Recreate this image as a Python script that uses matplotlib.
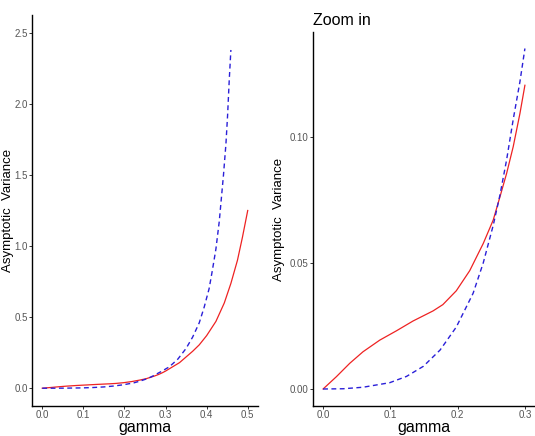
import matplotlib
matplotlib.use("Agg")
import matplotlib.pyplot as plt
import numpy as np

# values
red_gamma = [0.0, 0.0198, 0.0396, 0.0594, 0.0842, 0.109, 0.1337, 0.1634, 0.178, 0.198,
             0.218, 0.2381, 0.2529, 0.2629, 0.2728, 0.2826, 0.2926, 0.3,
             0.334, 0.366, 0.382, 0.4, 0.4226, 0.443, 0.459, 0.475, 0.487, 0.5]
red_var = [0.0, 0.0049, 0.0102, 0.0148, 0.0194, 0.0231, 0.027, 0.031, 0.0335, 0.039,
           0.047, 0.0578, 0.0671, 0.0763, 0.0856, 0.0962, 0.1094, 0.1206,
           0.18, 0.26, 0.305, 0.37, 0.47, 0.60, 0.737, 0.90, 1.06, 1.25]

blue_gamma = [0.0, 0.03, 0.0594, 0.099, 0.124, 0.149, 0.174, 0.198, 0.223, 0.238,
              0.2529, 0.2629, 0.2728, 0.2826, 0.2926, 0.3,
              0.309, 0.33, 0.35, 0.366, 0.382, 0.394, 0.406, 0.414, 0.4226, 0.4306,
              0.4347, 0.441, 0.447, 0.451, 0.455, 0.459]
blue_var = [0.0, 0.0001, 0.0007, 0.0025, 0.005, 0.009, 0.0155, 0.0246, 0.038, 0.05,
            0.065, 0.077, 0.091, 0.107, 0.122, 0.1352,
            0.15, 0.205, 0.28, 0.36, 0.46, 0.57, 0.70, 0.83, 0.98, 1.17,
            1.30, 1.50, 1.72, 1.92, 2.167, 2.379]

zoom_max = 0.3

left_xticks = [0.0, 0.1, 0.2, 0.3, 0.4, 0.5]
left_yticks = [0.0, 0.5, 1.0, 1.5, 2.0, 2.5]
right_xticks = [0.0, 0.1, 0.2, 0.3]
right_yticks = [0.00, 0.05, 0.10]

plt.rcParams['font.family'] = ['Liberation Sans', 'DejaVu Sans']

W, H = 535, 436
fig = plt.figure(figsize=(W / 100, H / 100), dpi=100)


def px_axes(x0, x1, y_top, y_bot):
    return fig.add_axes([x0 / W, 1 - y_bot / H, (x1 - x0) / W, (y_bot - y_top) / H])


def style(ax):
    for s in ['top', 'right']:
        ax.spines[s].set_visible(False)
    for s in ['left', 'bottom']:
        ax.spines[s].set_linewidth(1.0)
        ax.spines[s].set_color('black')
    ax.tick_params(length=2, width=0.7, color='#333333', labelcolor='#555555',
                   labelsize=7, pad=1)


red_color = '#ee2222'
blue_color = '#2a1fd8'

ax1 = px_axes(32, 258, 15, 406)
ax1.plot(red_gamma, red_var, color=red_color, lw=0.9)
ax1.plot(blue_gamma, blue_var, color=blue_color, lw=1.0, dashes=(3.5, 2.5))
ax1.set_xlim(-0.025, 0.525)
ax1.set_ylim(-0.125, 2.625)
ax1.set_xticks(left_xticks)
ax1.set_yticks(left_yticks)
ax1.set_xticklabels([f"{t:.1f}" for t in left_xticks])
ax1.set_yticklabels([f"{t:.1f}" for t in left_yticks])
style(ax1)
ax1.set_xlabel("gamma", fontsize=11.5, labelpad=0)
ax1.set_ylabel("Asymptotic  Variance", fontsize=9.5)
# kept just inside the left edge
ax1.yaxis.set_label_coords((8 - 32) / 226, 0.5)
ax1.yaxis.label.set_va('center')

rg = np.array(red_gamma)
rv = np.array(red_var)
bg = np.array(blue_gamma)
bv = np.array(blue_var)

ax2 = px_axes(313, 535, 32, 406)
ax2.plot(rg[rg <= zoom_max], rv[rg <= zoom_max], color=red_color, lw=0.9)
ax2.plot(bg[bg <= zoom_max], bv[bg <= zoom_max], color=blue_color, lw=1.0, dashes=(3.5, 2.5))
ax2.set_xlim(-0.015, 0.315)
ax2.set_ylim(-0.00675, 0.14175)
ax2.set_xticks(right_xticks)
ax2.set_yticks(right_yticks)
ax2.set_xticklabels([f"{t:.1f}" for t in right_xticks])
ax2.set_yticklabels([f"{t:.2f}" for t in right_yticks])
style(ax2)
ax2.set_xlabel("gamma", fontsize=11.5, labelpad=0)
ax2.set_ylabel("Asymptotic  Variance", fontsize=9.5)
ax2.yaxis.set_label_coords((279 - 313) / 222, 0.5)
ax2.yaxis.label.set_va('center')
ax2.set_title("Zoom in", loc='left', fontsize=11.5, pad=5)

fig.savefig("out.png", dpi=100)
